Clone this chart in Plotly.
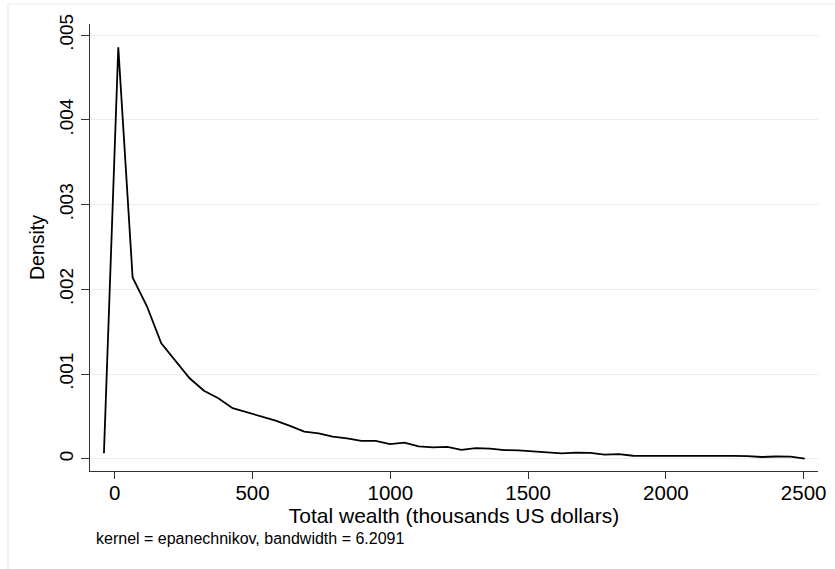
import plotly.graph_objects as go

# Kernel density estimate of total wealth (thousands US dollars)
wealth_grid = [
    -39, 13, 65, 117, 169, 220, 272, 324, 376, 428,
    480, 532, 584, 636, 688, 740, 791, 843, 895, 947,
    999, 1051, 1103, 1155, 1207, 1258, 1310, 1362, 1414, 1466,
    1518, 1570, 1622, 1674, 1726, 1777, 1829, 1881, 1933, 1985,
    2037, 2089, 2141, 2193, 2245, 2296, 2348, 2400, 2452, 2504,
]
density = [
    0.000064, 0.004857, 0.002140, 0.001800, 0.001362, 0.001160, 0.000950, 0.000803, 0.000713, 0.000597,
    0.000545, 0.000498, 0.000450, 0.000387, 0.000320, 0.000300, 0.000260, 0.000240, 0.000210, 0.000210,
    0.000172, 0.000190, 0.000145, 0.000135, 0.000140, 0.000105, 0.000126, 0.000120, 0.000102, 0.000098,
    0.000088, 0.000070, 0.000062, 0.000073, 0.000070, 0.000048, 0.000055, 0.000035, 0.000036, 0.000036,
    0.000036, 0.000030, 0.000036, 0.000035, 0.000033, 0.000030, 0.000020, 0.000026, 0.000025, 0.000002,
]

x_ticks = [0, 500, 1000, 1500, 2000, 2500]
x_tick_labels = ["0", "500", "1000", "1500", "2000", "2500"]
y_ticks = [0, 0.001, 0.002, 0.003, 0.004, 0.005]
y_tick_labels = ["0", ".001", ".002", ".003", ".004", ".005"]

FONT = "Liberation Sans, Arial, Helvetica, sans-serif"
GRID = "#e7eef0"

fig = go.Figure()
fig.add_trace(go.Scatter(
    x=wealth_grid, y=density, mode="lines",
    line=dict(color="black", width=1.8),
    showlegend=False, hoverinfo="skip",
))

fig.update_layout(
    width=835, height=569,
    margin=dict(l=90, r=17, t=24, b=98, autoexpand=False),
    paper_bgcolor="white", plot_bgcolor="white",
    font=dict(family=FONT, color="black"),
    xaxis=dict(
        range=[-89.6, 2552],
        tickvals=x_ticks, ticktext=x_tick_labels,
        ticks="outside", ticklen=7, tickwidth=1, tickcolor="#333",
        ticklabelstandoff=-4,
        showline=True, linecolor="#333", linewidth=1.3,
        showgrid=False, zeroline=False,
        tickfont=dict(size=20.5),
        title=dict(text="Total wealth (thousands US dollars)",
                   font=dict(size=21), standoff=0),
        automargin=False,
    ),
    yaxis=dict(
        range=[-0.000145, 0.005132],
        tickvals=y_ticks, ticktext=y_tick_labels,
        tickangle=-90,
        ticks="outside", ticklen=8, tickwidth=1, tickcolor="#333",
        showline=True, linecolor="#333", linewidth=1.3,
        showgrid=True, gridcolor=GRID, gridwidth=1.2,
        zeroline=False,
        tickfont=dict(size=19),
        title=dict(text="Density", font=dict(size=19.5), standoff=6),
        automargin=False,
    ),
    annotations=[dict(
        text="kernel = epanechnikov, bandwidth = 6.2091",
        xref="paper", yref="paper", x=0.0055, y=-0.15,
        xanchor="left", yanchor="middle", showarrow=False,
        font=dict(size=16, family=FONT, color="black"),
    )],
    shapes=[dict(
        type="rect", xref="paper", yref="paper",
        x0=-0.1126, x1=1.06, y0=-0.26, y1=1.0447,
        line=dict(color=GRID, width=1.2), layer="below",
    )],
)

fig.write_html("out.html")
